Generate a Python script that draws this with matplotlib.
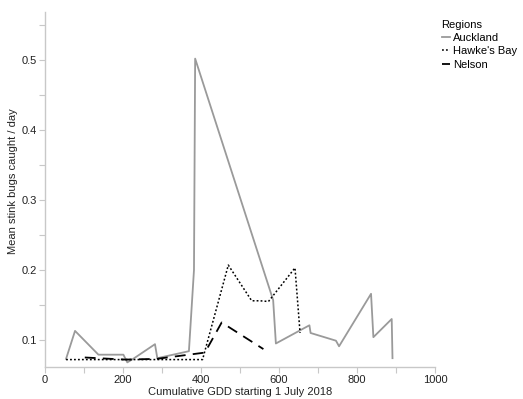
import matplotlib
matplotlib.use("Agg")
import matplotlib.pyplot as plt
from matplotlib.ticker import MultipleLocator

plt.rcParams['font.family'] = ['Liberation Sans', 'DejaVu Sans']

# cumulative GDD vs mean catch per region
aucklandGDD   = [54, 77, 137, 201, 211, 226, 282, 288, 369, 382, 385, 585, 592, 678, 681, 746, 754, 836, 842, 889, 891]
aucklandCatch = [0.073, 0.113, 0.079, 0.079, 0.068, 0.073, 0.094, 0.074, 0.084, 0.200, 0.502, 0.157, 0.095, 0.121, 0.110, 0.099, 0.091, 0.166, 0.104, 0.130, 0.074]

hawkesGDD     = [54, 404, 470, 530, 551, 573, 641, 654]
hawkesCatch   = [0.072, 0.072, 0.207, 0.156, 0.156, 0.155, 0.203, 0.110]

nelsonGDD     = [102, 205, 286, 410, 453, 560]
nelsonCatch   = [0.075, 0.072, 0.073, 0.082, 0.125, 0.087]

fig = plt.figure(figsize=(5.23, 3.99), dpi=100)
ax = fig.add_axes([45/523, 32/399, 390/523, 355/399])

ax.plot(aucklandGDD, aucklandCatch, color='#9a9a9a', linewidth=1.3, label='Auckland')
ax.plot(hawkesGDD, hawkesCatch, color='black', linewidth=1.1, linestyle=(0, (1.2, 1.4)), label="Hawke's Bay")
ax.plot(nelsonGDD, nelsonCatch, color='black', linewidth=1.3, linestyle=(0, (6, 4)), label='Nelson')

ax.set_xlim(0, 1000)
ax.set_ylim(0.0614, 0.5686)
ax.xaxis.set_major_locator(MultipleLocator(200))
ax.xaxis.set_minor_locator(MultipleLocator(100))
ax.yaxis.set_minor_locator(MultipleLocator(0.05))
ax.set_yticks([0.1, 0.2, 0.3, 0.4, 0.5])
ax.set_yticklabels(['0.1', '0.2', '0.3', '0.4', '0.5'])

for side in ['top', 'right']:
    ax.spines[side].set_visible(False)
for side in ['bottom', 'left']:
    ax.spines[side].set_color('#c8c8c8')
    ax.spines[side].set_linewidth(1.0)

ax.tick_params(which='both', direction='out', length=4, width=0.8, color='#c8c8c8',
               labelsize=8, labelcolor='#222222', pad=2)

ax.set_xlabel('Cumulative GDD starting 1 July 2018', fontsize=8, color='#222222', labelpad=1)
ax.set_ylabel('Mean stink bugs caught / day', fontsize=8, color='#222222')
ax.yaxis.set_label_coords(-27/390, (367 - 181)/355)

leg = fig.legend(loc='upper left', bbox_to_anchor=(436/523, 1 - 14/399), frameon=False,
                 title='Regions', fontsize=8, title_fontsize=8,
                 handlelength=0.8, handletextpad=0.25, labelspacing=0.3, borderpad=0)
leg._legend_box.align = 'left'

plt.savefig("out.png", dpi=100)
plt.close()
